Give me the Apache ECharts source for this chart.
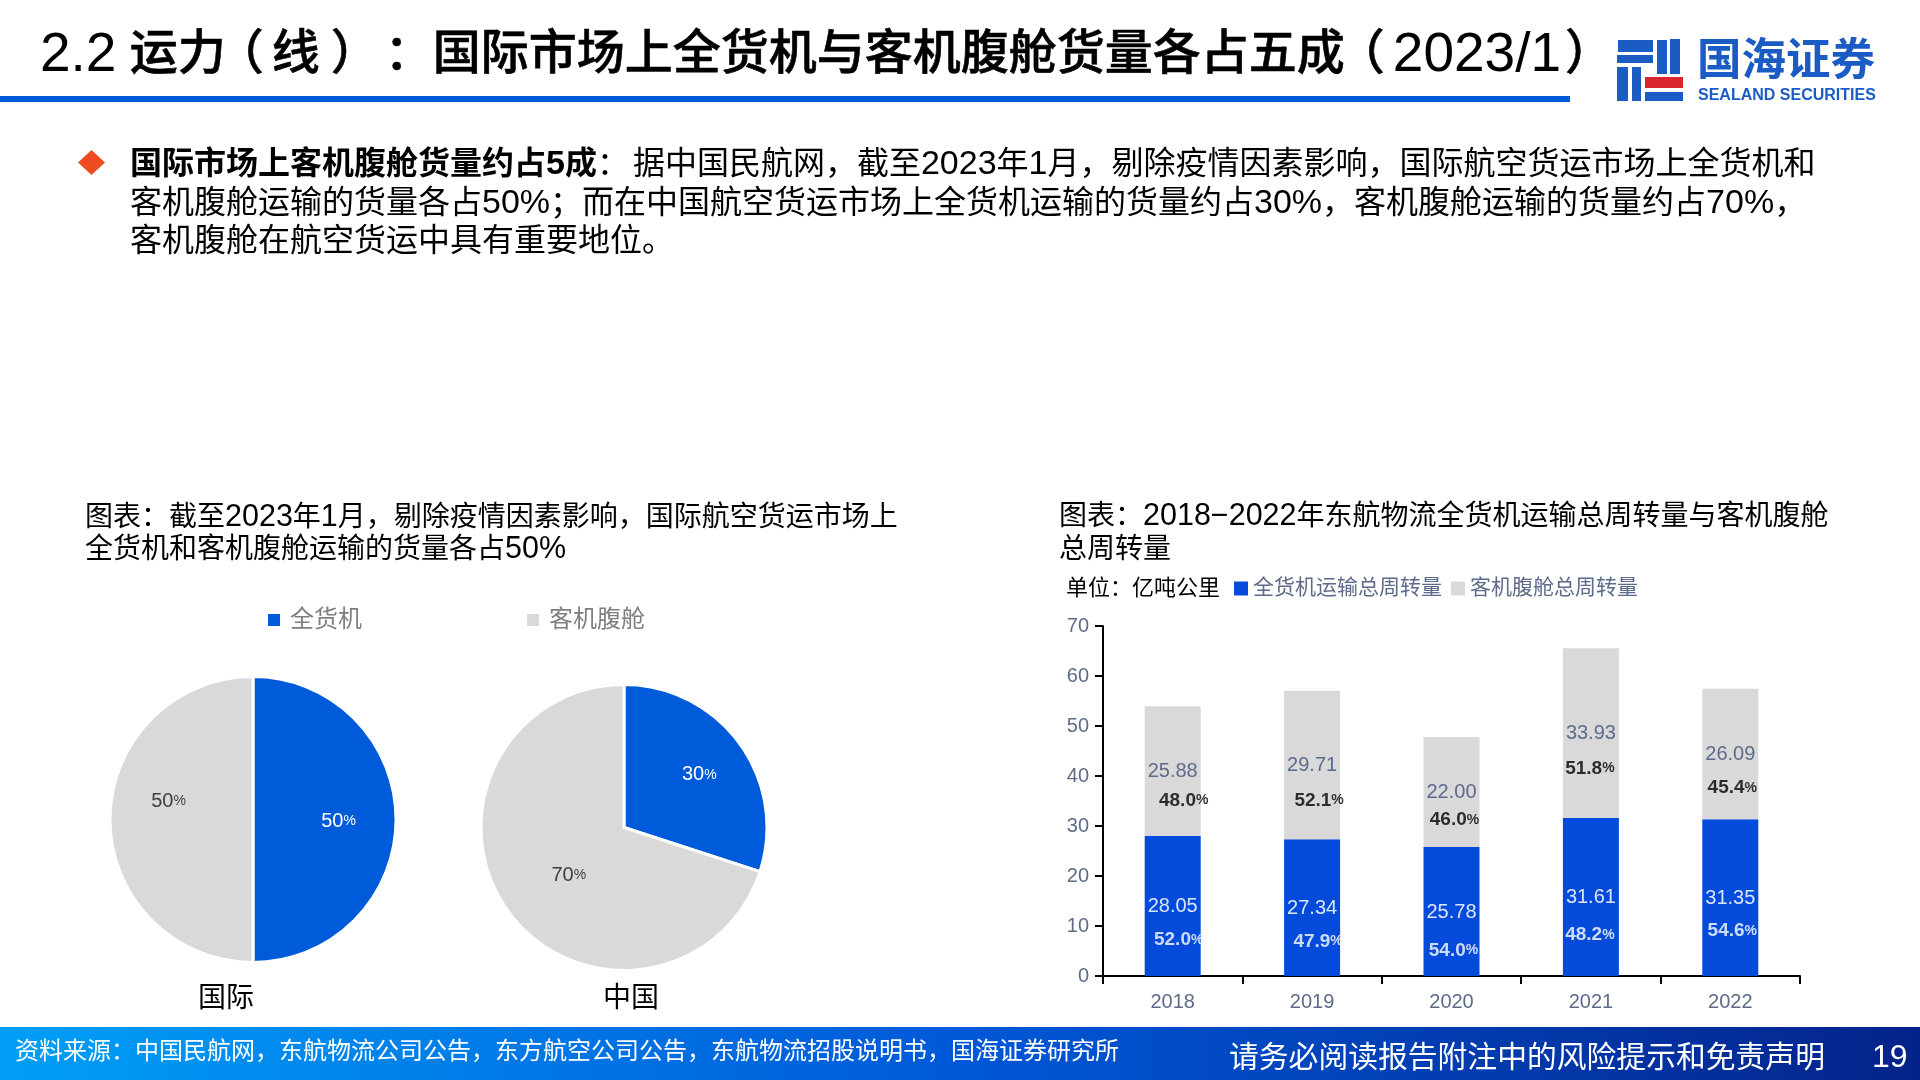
<!DOCTYPE html>
<html lang="zh"><head><meta charset="utf-8">
<style>html,body{margin:0;padding:0;background:#fff}#c{width:1920px;height:1080px}</style>
<script src="https://cdn.jsdelivr.net/npm/echarts@6/dist/echarts.min.js"></script>
</head><body><div id="c"></div>
<script>
const years=['2018','2019','2020','2021','2022'];
const freighter=[28.05,27.34,25.78,31.61,31.35];
const belly=[25.88,29.71,22.00,33.93,26.09];
const freighterPct=['52.0','47.9','54.0','48.2','54.6'];
const bellyPct=['48.0','52.1','46.0','51.8','45.4'];
const freighterPctAt=[7.4,7.1,5.3,8.4,9.2];
const bellyPctAt=[35.3,35.3,31.4,41.7,37.8];
const pieNames=['全货机','客机腹舱'];
const intlShare=[50,50];
const chinaShare=[30,70];
const bodyBold='国际市场上客机腹舱货量约占5成';
const bodyColon='：';
const bodyLines=['据中国民航网，截至2023年1月，剔除疫情因素影响，国际航空货运市场上全货机和',
 '客机腹舱运输的货量各占50%；而在中国航空货运市场上全货机运输的货量约占30%，客机腹舱运输的货量约占70%，',
 '客机腹舱在航空货运中具有重要地位。'];
const capL=['图表：截至2023年1月，剔除疫情因素影响，国际航空货运市场上','全货机和客机腹舱运输的货量各占50%'];
const capR=['图表：2018−2022年东航物流全货机运输总周转量与客机腹舱','总周转量'];
const unitText='单位：亿吨公里';
const sourceText='资料来源：中国民航网，东航物流公司公告，东方航空公司公告，东航物流招股说明书，国海证券研究所';
const noticeText='请务必阅读报告附注中的风险提示和免责声明';
const pageNo='19';

const CJK='"Liberation Sans","Noto Sans CJK SC"';
const LAT='"Liberation Sans"';
const BLUE='#005BDB', BAR='#044BDB', GREY='#D9D9D9', SLATE='#5D6B8A', LOGO='#1A5BC4';
const txt=(x,y,text,size,color,extra)=>({type:'text',x,y,silent:true,style:Object.assign({text,fontSize:size,fill:color,fontFamily:CJK,verticalAlign:'middle'},extra||{})});
const rect=(x,y,w,h,fill)=>({type:'rect',silent:true,shape:{x,y,width:w,height:h},style:{fill}});
// Latin runs sit a little larger than the CJK text around them, as in the slide.
const mixed=(s,pre)=>s.replace(/[\x21-\x7e\u2212]+|[^\x21-\x7e\u2212]+/g,m=>'{'+(/^[\x21-\x7e\u2212]/.test(m)?pre+'L':pre+'C')+'|'+m+'}');
const mixedRich=(pre,cSize,lSize,w)=>({[pre+'C']:{fontSize:cSize,fill:'#000',fontFamily:CJK,fontWeight:w||'normal'},[pre+'L']:{fontSize:lSize,fill:'#000',fontFamily:LAT,fontWeight:w||'normal'}});
const mtxt=(x,y,s,cSize,lSize)=>({type:'text',x,y,silent:true,style:{text:mixed(s,'m'),verticalAlign:'middle',rich:mixedRich('m',cSize,lSize)}});

const T={fill:'#000',fontFamily:CJK,fontSize:48,fontWeight:500,stroke:'#000',lineWidth:0.6};
const TL={fill:'#000',fontFamily:LAT,fontSize:55};
const titleRich={a:TL,d:Object.assign({},TL,{padding:[0,0,0,0]}),b:T,c:T,
 p1:Object.assign({},T,{padding:[0,8,0,-10]}),
 p2:Object.assign({},T,{padding:[0,0,0,11]}),
 p3:Object.assign({},T,{padding:[0,0,0,6]}),
 p4:Object.assign({},T,{padding:[0,8,0,-8]}),
 p5:Object.assign({},T,{padding:[0,0,0,4]})};
const titleMarkup='{a|2.2}{b| 运力}{p1|（}{b|线}{p2|）}{p3|：}{c|国际市场上全货机与客机腹舱货量各占五成}{p4|（}{d|2023/1}{p5|）}';

const pctRich={n:{fontFamily:LAT,fontWeight:'bold',fontSize:19},u:{fontFamily:LAT,fontWeight:'bold',fontSize:14}};
const pctRichW={n:Object.assign({color:'#fff'},pctRich.n),u:Object.assign({color:'#fff'},pctRich.u)};
const pctRichK={n:Object.assign({color:'#000'},pctRich.n),u:Object.assign({color:'#000'},pctRich.u)};
const freighterDx=[6,6,2,-1,2], bellyDx=[11,7,3,-1,2];
const pieLabel=(c,off)=>({position:'inside',offset:off,color:c,formatter:p=>'{n|'+p.value+'}{u|%}',
  rich:{n:{color:c,fontFamily:LAT,fontSize:20},u:{color:c,fontFamily:LAT,fontSize:14}}});
const pieData=(vals,offs)=>vals.map((v,i)=>({name:pieNames[i],value:v,
  itemStyle:{color:i?GREY:BLUE},label:pieLabel(i?'#404040':'#fff',offs[i])}));
const pieBase={type:'pie',radius:143,startAngle:90,clockwise:true,animation:false,silent:true,
  itemStyle:{borderColor:'#fff',borderWidth:3},labelLine:{show:false}};

const chart=echarts.init(document.getElementById('c'),null,{renderer:'canvas',width:1920,height:1080});
chart.setOption({
 animation:false,backgroundColor:'#fff',
 legend:[
  {data:pieNames,left:266,top:608,padding:0,icon:'rect',itemWidth:14,itemHeight:14,itemGap:163,selectedMode:false,
   textStyle:{color:'#7F7F7F',fontSize:24,fontFamily:CJK,padding:[0,0,0,4]}},
  {data:['全货机运输总周转量','客机腹舱总周转量'],left:1234,top:578,padding:0,icon:'rect',itemWidth:14,itemHeight:14,itemGap:9,selectedMode:false,
   textStyle:{color:SLATE,fontSize:21,fontFamily:CJK}}
 ],
 grid:{left:1103,top:626,width:697,height:350},
 xAxis:{type:'category',data:years,axisLine:{lineStyle:{color:'#000',width:2}},
  axisTick:{show:true,length:8,lineStyle:{color:'#000',width:2},alignWithLabel:false},
  axisLabel:{color:SLATE,fontSize:20,fontFamily:LAT,margin:16}},
 yAxis:{type:'value',min:0,max:70,interval:10,splitLine:{show:false},
  axisLine:{show:true,lineStyle:{color:'#000',width:2}},
  axisTick:{show:true,length:8,lineStyle:{color:'#000',width:2}},
  axisLabel:{color:SLATE,fontSize:20,fontFamily:LAT,margin:14}},
 series:[
  Object.assign({},pieBase,{name:'国际',center:[253,819.5],data:pieData(intlShare,[[11,2],[-10,-18]])}),
  Object.assign({},pieBase,{name:'中国',center:[624,827.5],data:pieData(chinaShare,[[15,-9],[5,4]])}),
  {name:'全货机运输总周转量',type:'bar',stack:'t',barWidth:56,data:freighter,itemStyle:{color:BAR},silent:true,
   label:{show:true,position:'inside',offset:[0,1],color:'#DCE5F8',fontSize:20,fontFamily:LAT,formatter:p=>p.value.toFixed(2)}},
  {name:'客机腹舱总周转量',type:'bar',stack:'t',barWidth:56,data:belly,itemStyle:{color:GREY},silent:true,
   label:{show:true,position:'inside',color:SLATE,fontSize:20,fontFamily:LAT,formatter:p=>p.value.toFixed(2)}},
  {name:'全货机占比',type:'scatter',symbolSize:0,silent:true,z:5,
   data:freighterPctAt.map((y,i)=>({value:[i,y],label:{show:true,position:'inside',offset:[freighterDx[i],1],
     formatter:'{n|'+freighterPct[i]+'}{u|%}',rich:pctRichW}}))},
  {name:'客机腹舱占比',type:'scatter',symbolSize:0,silent:true,z:5,
   data:bellyPctAt.map((y,i)=>({value:[i,y],label:{show:true,position:'inside',offset:[bellyDx[i],1],
     formatter:'{n|'+bellyPct[i]+'}{u|%}',rich:pctRichK}}))}
 ],
 graphic:[
  // header
  {type:'text',x:40,y:56,silent:true,style:{text:titleMarkup,verticalAlign:'middle',rich:titleRich}},
  rect(0,96,1570,6,BLUE),
  // logo
  rect(1618,40,35,12,LOGO),rect(1617,55,36,8,LOGO),rect(1617,67,11,34,LOGO),rect(1632,67,9,34,LOGO),
  rect(1657,40,10,34,LOGO),rect(1670,39,10,35,LOGO),
  rect(1645,77,38,11,'#D9262E'),rect(1645,92,38,9,LOGO),
  txt(1697,63,'国海证券',44.5,LOGO,{fontWeight:'bold'}),
  txt(1698,96,'SEALAND SECURITIES',16,LOGO,{fontWeight:'bold'}),
  // body
  {type:'polygon',silent:true,shape:{points:[[91.5,150],[105,162.5],[91.5,175],[78,162.5]]},style:{fill:'#EE4B20'}},
  {type:'text',x:130,y:165,silent:true,style:{text:mixed(bodyBold,'b')+'{k|'+bodyColon+'}'+mixed(bodyLines[0],'m'),verticalAlign:'middle',
    rich:Object.assign(mixedRich('b',32,34,'bold'),mixedRich('m',32,34),{k:{fontSize:32,fill:'#000',fontFamily:CJK,padding:[0,4,0,0]}})}},
  mtxt(130,204,bodyLines[1],32,34),
  mtxt(130,242,bodyLines[2],32,34),
  // captions
  mtxt(85,518,capL[0],28,30.5),mtxt(85,550,capL[1],28,30.5),
  mtxt(1059,517,capR[0],28,30.5),mtxt(1059,550,capR[1],28,30.5),
  txt(1066,589,unitText,22,'#000'),
  // pie names
  txt(226,999,'国际',28,'#000',{align:'center'}),
  txt(631,999,'中国',28,'#000',{align:'center'}),
  // footer
  {type:'rect',silent:true,shape:{x:0,y:1027,width:1920,height:53},
   style:{fill:new echarts.graphic.LinearGradient(0,0,1,0,[{offset:0,color:'#009FF7'},{offset:.5,color:'#0058D8'},{offset:1,color:'#04238A'}])}},
  txt(15,1052,sourceText,24,'#fff'),
  txt(1229,1059,noticeText,29.8,'#fff'),
  txt(1872,1058,pageNo,32,'#fff')
 ]
});
</script></body></html>
